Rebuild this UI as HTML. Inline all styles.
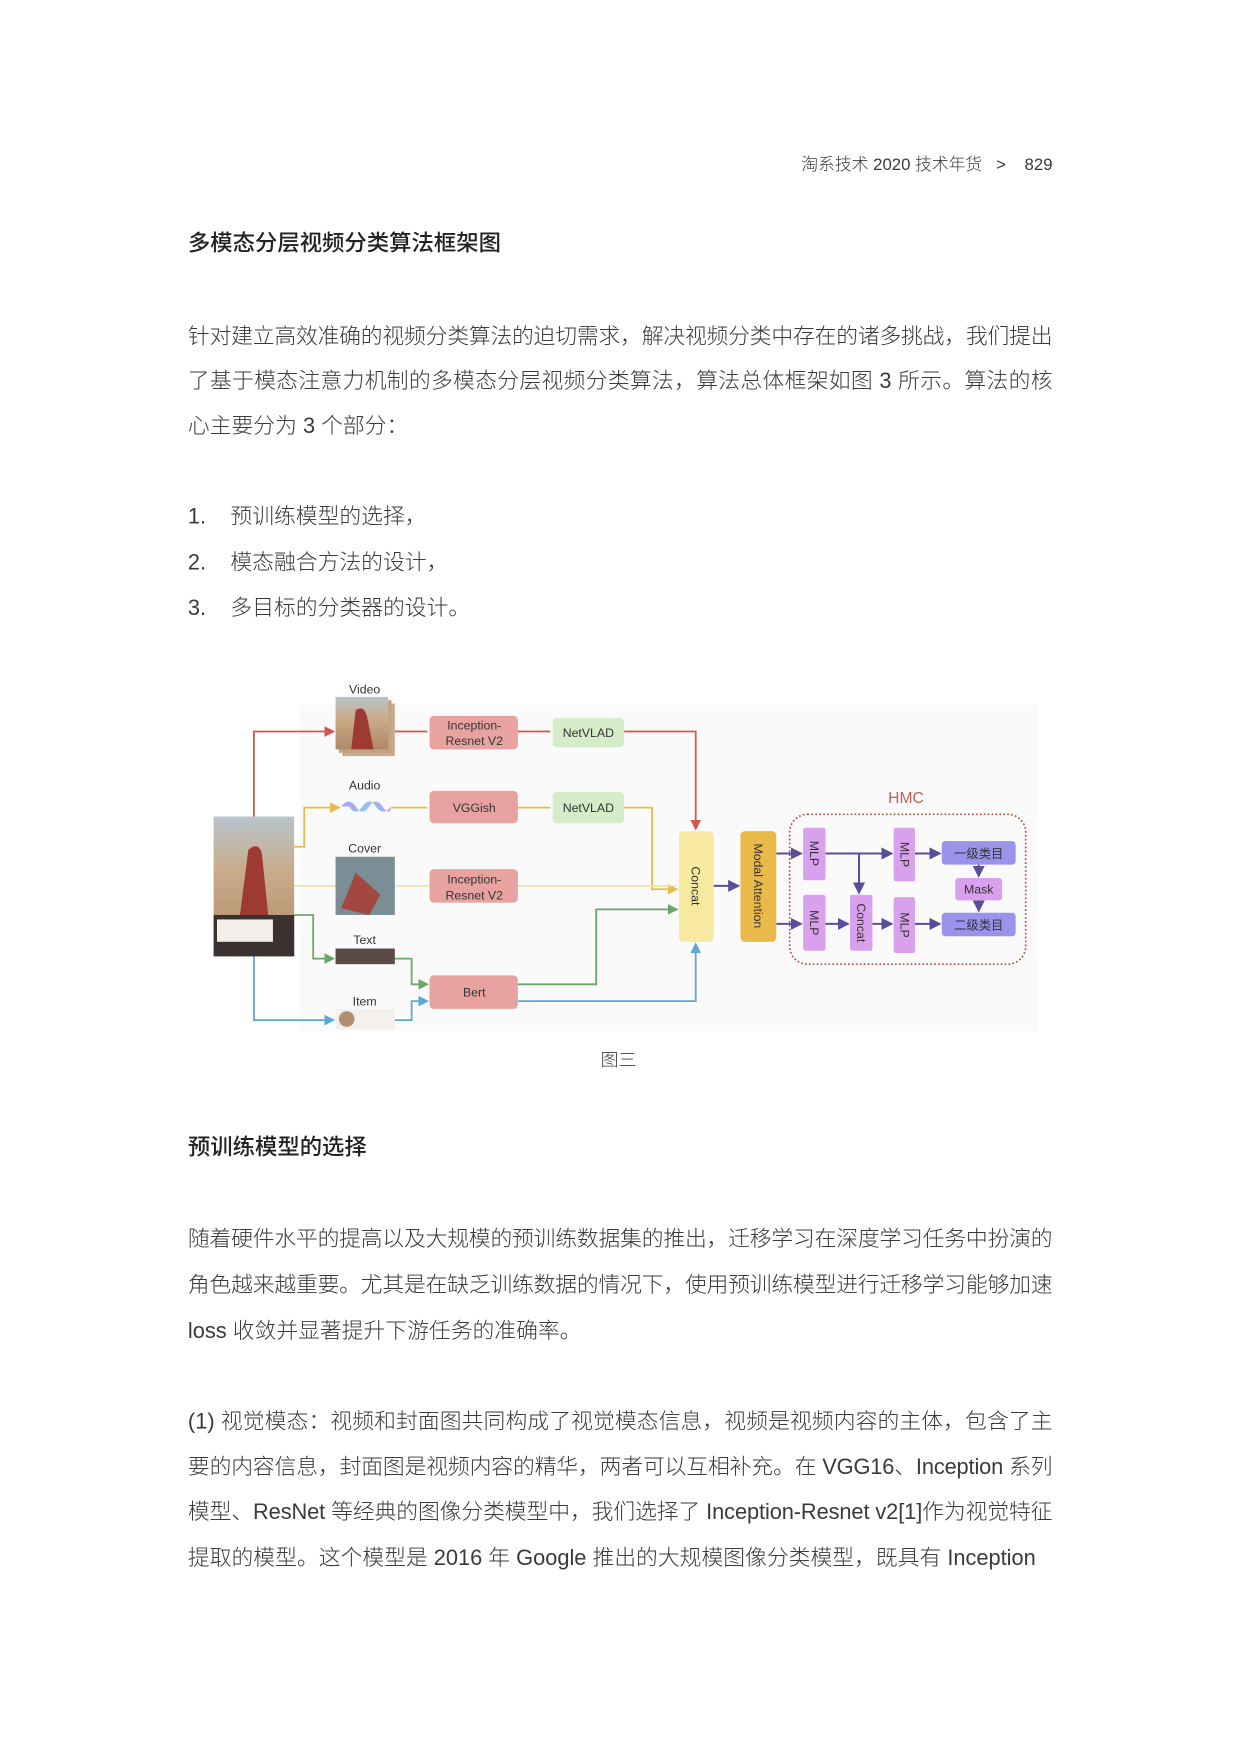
<!DOCTYPE html>
<html><head><meta charset="utf-8"><style>
html,body{margin:0;padding:0;background:#fff;width:1240px;height:1755px;overflow:hidden}
svg{display:block}
.t{font-family:"Liberation Sans","Noto Sans CJK SC",sans-serif;fill:#3a3a3a;font-size:19.5px;font-weight:300}
.h{font-family:"Liberation Sans","Noto Sans CJK SC",sans-serif;fill:#222;font-size:20px;font-weight:500}
.d{font-family:"Liberation Sans","Noto Sans CJK SC",sans-serif;font-size:11px;fill:#333;text-anchor:middle}
</style></head><body>
<svg width="1240" height="1755" viewBox="0 0 1108.6 1569" preserveAspectRatio="none" xmlns="http://www.w3.org/2000/svg">
<defs>
<marker id="ar" markerWidth="6" markerHeight="6" refX="5" refY="3" orient="auto"><path d="M0,0L6,3L0,6z" fill="context-stroke"/></marker>
<marker id="ar2" markerWidth="6" markerHeight="6" refX="5" refY="3" orient="auto"><path d="M0,0L6,3L0,6z" fill="#5a4e9a"/></marker>
<linearGradient id="sand" x1="0" y1="0" x2="0" y2="1"><stop offset="0" stop-color="#b8c4cc"/><stop offset=".4" stop-color="#c9ab8a"/><stop offset="1" stop-color="#b08a68"/></linearGradient>
<linearGradient id="wave" x1="0" x2="1"><stop offset="0" stop-color="#b59cf0"/><stop offset=".5" stop-color="#8fc6ef"/><stop offset="1" stop-color="#b59cf0"/></linearGradient>
</defs>
<text class="t" x="941" y="152" text-anchor="end" style="font-size:15px">淘系技术 2020 技术年货 &#160;&#160;&gt;&#160;&#160;&#160; 829</text>
<text class="h" x="168" y="224">多模态分层视频分类算法框架图</text>
<text class="t" x="168" y="307" textLength="773" lengthAdjust="spacing">针对建立高效准确的视频分类算法的迫切需求，解决视频分类中存在的诸多挑战，我们提出</text>
<text class="t" x="168" y="347" textLength="773" lengthAdjust="spacing">了基于模态注意力机制的多模态分层视频分类算法，算法总体框架如图 3 所示。算法的核</text>
<text class="t" x="168" y="387">心主要分为 3 个部分：</text>
<text class="t" x="168" y="468">1.</text><text class="t" x="206" y="468">预训练模型的选择，</text>
<text class="t" x="168" y="509">2.</text><text class="t" x="206" y="509">模态融合方法的设计，</text>
<text class="t" x="168" y="550">3.</text><text class="t" x="206" y="550">多目标的分类器的设计。</text>

<rect x="268" y="630" width="660" height="292" fill="#fafafa"/>
<g fill="none" stroke-width="1.6">
<path d="M227,730V654H298" stroke="#d4574b" marker-end="url(#ar)"/>
<path d="M353,654H382M463,654H492M558,654H622V741" stroke="#d4574b" marker-end="url(#ar)"/>
<path d="M263,757H272V722H303" stroke="#e7b94f" marker-end="url(#ar)"/>
<path d="M350,722H382M463,722H492M558,722H583V795H605" stroke="#e7b94f" marker-end="url(#ar)"/>
<path d="M263,792H605" stroke="#ece7a0"/>
<path d="M263,818H280V857H298" stroke="#6aa86a" marker-end="url(#ar)"/>
<path d="M353,857H368V880H382" stroke="#6aa86a" marker-end="url(#ar)"/>
<path d="M463,880H533V813H605" stroke="#6aa86a" marker-end="url(#ar)"/>
<path d="M227,855V912H298" stroke="#5fa7d6" marker-end="url(#ar)"/>
<path d="M353,912H368V895H382" stroke="#5fa7d6" marker-end="url(#ar)"/>
<path d="M463,895H622V844" stroke="#5fa7d6" marker-end="url(#ar)"/>
</g>
<g fill="none" stroke="#5a4e9a" stroke-width="1.8">
<path d="M638,792H660" marker-end="url(#ar2)"/>
<path d="M694,763H716" marker-end="url(#ar2)"/>
<path d="M694,826H716" marker-end="url(#ar2)"/>
<path d="M738,763H797" marker-end="url(#ar2)"/>
<path d="M768,763V798" marker-end="url(#ar2)"/>
<path d="M738,826H758" marker-end="url(#ar2)"/>
<path d="M780,826H797" marker-end="url(#ar2)"/>
<path d="M818,763H840" marker-end="url(#ar2)"/>
<path d="M818,826H840" marker-end="url(#ar2)"/>
<path d="M875,773V783" marker-end="url(#ar2)"/>
<path d="M875,805V814" marker-end="url(#ar2)"/>
</g>
<rect x="191" y="730" width="72" height="125" fill="url(#sand)"/>
<path d="M222,760Q230,752 234,762L240,820L214,822Z" fill="#9e3a34"/>
<rect x="191" y="818" width="72" height="37" fill="#3a3230"/>
<rect x="194" y="822" width="50" height="20" fill="#f2efe8"/>
<text class="d" x="326" y="620">Video</text>
<rect x="306" y="629" width="47" height="47" fill="#c9ab8a"/>
<rect x="303" y="626" width="47" height="47" fill="#bfa489"/>
<rect x="300" y="623" width="47" height="47" fill="url(#sand)"/>
<path d="M318,635Q325,630 328,640L334,670L314,670Z" fill="#9e3a34"/>
<text class="d" x="326" y="706">Audio</text>
<path d="M305,721Q312,712 318,721T330,721T342,721T350,721Q342,730 336,721T324,721T312,721Z" fill="url(#wave)"/>
<text class="d" x="326" y="762">Cover</text>
<rect x="300" y="766" width="53" height="52" fill="#7b8e95"/>
<path d="M318,780L340,800L330,818L305,812Z" fill="#a24840"/>
<text class="d" x="326" y="844">Text</text>
<rect x="300" y="848" width="53" height="14" fill="#5a4a48"/>
<text class="d" x="326" y="899">Item</text>
<rect x="300" y="902" width="53" height="18" fill="#f4f1ec"/>
<circle cx="310" cy="911" r="7" fill="#b09070"/>
<rect x="384" y="640" width="79" height="30" rx="4" fill="#e8a3a0"/>
<text class="d" x="424" y="652">Inception-</text><text class="d" x="424" y="666">Resnet V2</text>
<rect x="494" y="642" width="64" height="26" rx="4" fill="#d6ebc8"/><text class="d" x="526" y="659">NetVLAD</text>
<rect x="384" y="707" width="79" height="29" rx="4" fill="#e8a3a0"/><text class="d" x="424" y="726">VGGish</text>
<rect x="494" y="708" width="64" height="28" rx="4" fill="#d6ebc8"/><text class="d" x="526" y="726">NetVLAD</text>
<rect x="384" y="777" width="79" height="30" rx="4" fill="#e8a3a0"/>
<text class="d" x="424" y="790">Inception-</text><text class="d" x="424" y="804">Resnet V2</text>
<rect x="384" y="872" width="79" height="30" rx="4" fill="#e8a3a0"/><text class="d" x="424" y="891">Bert</text>
<rect x="607" y="743" width="31" height="99" rx="4" fill="#f7eaa0"/>
<text class="d" x="0" y="0" transform="translate(618,792) rotate(90)">Concat</text>
<rect x="662" y="743" width="32" height="99" rx="4" fill="#e9b94a"/>
<text class="d" x="0" y="0" transform="translate(674,792) rotate(90)">Modal Attention</text>
<text class="d" x="810" y="718" style="font-size:14px;fill:#c0605a">HMC</text>
<rect x="706" y="728" width="211" height="134" rx="16" fill="none" stroke="#b0504a" stroke-width="1.5" stroke-dasharray="1.5 2"/>
<rect x="718" y="740" width="20" height="47" rx="2" fill="#d9a0ee"/><text class="d" transform="translate(724,763) rotate(90)">MLP</text>
<rect x="799" y="740" width="19" height="48" rx="2" fill="#d9a0ee"/><text class="d" transform="translate(805,764) rotate(90)">MLP</text>
<rect x="718" y="800" width="20" height="50" rx="2" fill="#d9a0ee"/><text class="d" transform="translate(724,825) rotate(90)">MLP</text>
<rect x="760" y="800" width="20" height="50" rx="2" fill="#d9a0ee"/><text class="d" transform="translate(766,825) rotate(90)">Concat</text>
<rect x="799" y="802" width="19" height="50" rx="2" fill="#d9a0ee"/><text class="d" transform="translate(805,827) rotate(90)">MLP</text>
<rect x="842" y="752" width="66" height="21" rx="3" fill="#9b92ec"/><text class="d" x="875" y="767">一级类目</text>
<rect x="854" y="785" width="42" height="20" rx="3" fill="#d9a0ee"/><text class="d" x="875" y="799">Mask</text>
<rect x="842" y="816" width="66" height="21" rx="3" fill="#9b92ec"/><text class="d" x="875" y="831">二级类目</text>
<text class="t" x="553" y="953" text-anchor="middle" style="font-size:16px">图三</text>

<text class="h" x="168" y="1032">预训练模型的选择</text>
<text class="t" x="168" y="1114" textLength="773" lengthAdjust="spacing">随着硬件水平的提高以及大规模的预训练数据集的推出，迁移学习在深度学习任务中扮演的</text>
<text class="t" x="168" y="1155" textLength="773" lengthAdjust="spacing">角色越来越重要。尤其是在缺乏训练数据的情况下，使用预训练模型进行迁移学习能够加速</text>
<text class="t" x="168" y="1196">loss 收敛并显著提升下游任务的准确率。</text>
<text class="t" x="168" y="1277" textLength="773" lengthAdjust="spacing">(1) 视觉模态：视频和封面图共同构成了视觉模态信息，视频是视频内容的主体，包含了主</text>
<text class="t" x="168" y="1318" textLength="773" lengthAdjust="spacing">要的内容信息，封面图是视频内容的精华，两者可以互相补充。在 VGG16、Inception 系列</text>
<text class="t" x="168" y="1358" textLength="773" lengthAdjust="spacing">模型、ResNet 等经典的图像分类模型中，我们选择了 Inception-Resnet v2[1]作为视觉特征</text>
<text class="t" x="168" y="1399" textLength="758" lengthAdjust="spacing">提取的模型。这个模型是 2016 年 Google 推出的大规模图像分类模型，既具有 Inception</text>
</svg>
</body></html>
